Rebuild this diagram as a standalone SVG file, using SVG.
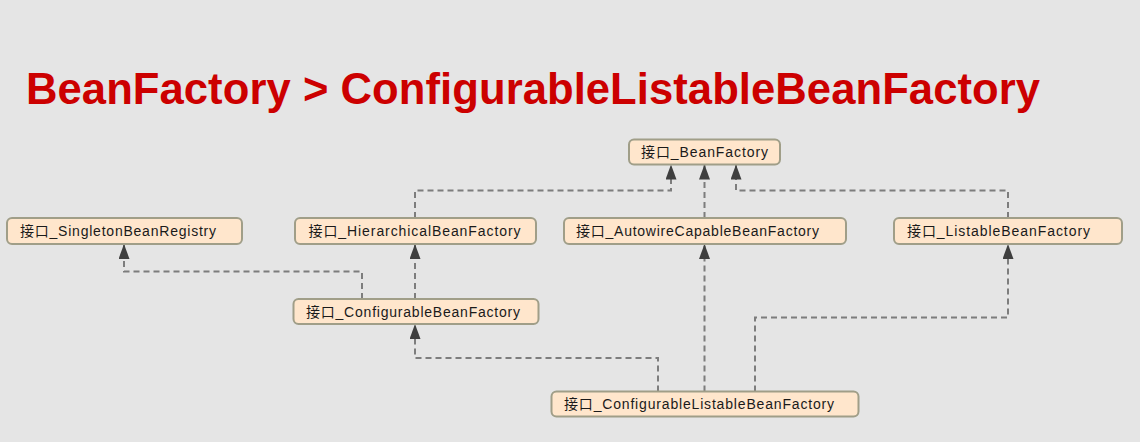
<svg xmlns="http://www.w3.org/2000/svg" width="1140" height="442" viewBox="0 0 1140 442">
  <style>
    .bg { fill: #e5e5e5; }
    .title { font-family: "Liberation Sans", Arial, sans-serif; font-weight: bold; font-size: 43.6px; fill: #cc0000; }
    .node rect { fill: #ffe6cc; stroke: #a09e88; stroke-width: 2; }
    .node text { font-family: "Liberation Sans", "Noto Sans CJK SC", sans-serif; font-size: 14px; fill: #1a1a1a; }
    .edge { fill: none; stroke: #7d7d7d; stroke-width: 2; stroke-dasharray: 6 4; marker-end: url(#arrow); }
  </style>
  <defs>
    <marker id="arrow" viewBox="0 0 15 11" refX="15" refY="5.5" markerWidth="15" markerHeight="11" markerUnits="userSpaceOnUse" orient="auto">
      <path d="M0,0 L15,5.5 L0,11 Z" fill="#3f3f3f"/>
    </marker>
  </defs>
  <rect class="bg" x="0" y="0" width="1140" height="442"/>
  <text class="title" x="26" y="104" textLength="1014">BeanFactory &gt; ConfigurableListableBeanFactory</text>

  <g id="connectors">
    <path class="edge" d="M415,218 V190.5 H671 V164.5"/>
    <path class="edge" d="M704.5,218 V164.5"/>
    <path class="edge" d="M1008,218 V190.5 H736 V164.5"/>
    <path class="edge" d="M362,299 V271.5 H124 V244"/>
    <path class="edge" d="M415,299 V244"/>
    <path class="edge" d="M658,391.5 V358 H415 V324"/>
    <path class="edge" d="M704.5,391.5 V244"/>
    <path class="edge" d="M755,391.5 V317.5 H1008 V244"/>
  </g>

  <g id="node-BeanFactory" class="node">
    <rect x="629" y="139.5" width="151" height="25" rx="5"/>
    <text x="641" y="157" textLength="127">接口_BeanFactory</text>
  </g>
  <g id="node-SingletonBeanRegistry" class="node">
    <rect x="7" y="218" width="235" height="26" rx="5"/>
    <text x="20" y="236" textLength="196">接口_SingletonBeanRegistry</text>
  </g>
  <g id="node-HierarchicalBeanFactory" class="node">
    <rect x="295" y="218" width="241" height="26" rx="5"/>
    <text x="308.5" y="236" textLength="212">接口_HierarchicalBeanFactory</text>
  </g>
  <g id="node-AutowireCapableBeanFactory" class="node">
    <rect x="564" y="218" width="282" height="26" rx="5"/>
    <text x="576" y="236" textLength="243">接口_AutowireCapableBeanFactory</text>
  </g>
  <g id="node-ListableBeanFactory" class="node">
    <rect x="894" y="218" width="228" height="26" rx="5"/>
    <text x="907" y="236" textLength="183">接口_ListableBeanFactory</text>
  </g>
  <g id="node-ConfigurableBeanFactory" class="node">
    <rect x="293.5" y="299" width="245" height="25" rx="5"/>
    <text x="306" y="317" textLength="214">接口_ConfigurableBeanFactory</text>
  </g>
  <g id="node-ConfigurableListableBeanFactory" class="node">
    <rect x="551.5" y="391.5" width="307" height="25" rx="5"/>
    <text x="564" y="409" textLength="270">接口_ConfigurableListableBeanFactory</text>
  </g>
</svg>
